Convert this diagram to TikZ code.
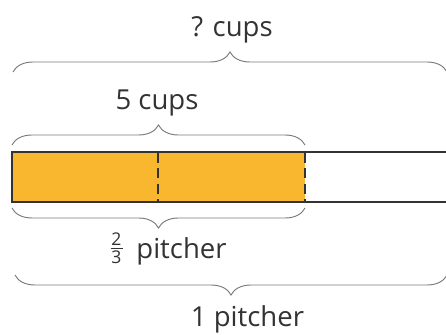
\documentclass[tikz,border=0pt]{standalone}
\usepackage{fontspec}
\setmainfont{Open Sans}
\usetikzlibrary{decorations.pathreplacing}

\definecolor{juice}{HTML}{F9B730}
\definecolor{ink}{HTML}{333333}
\definecolor{bracegray}{HTML}{7A7A7A}

\tikzset{
  curly/.style={draw=bracegray, line width=0.8pt, decorate,
    decoration={brace, amplitude=0.6cm}},
  tag/.style={text=ink, anchor=base, inner sep=0pt,
    font=\fontsize{23.5}{27}\selectfont},
  digit/.style={text=ink, anchor=base, inner sep=0pt,
    font=\fontsize{15}{15}\selectfont},
  divider/.style={ink, line width=1.4pt, dash pattern=on 9pt off 4.5pt}
}

\begin{document}
\begin{tikzpicture}[x=0.03cm, y=-0.03cm]
  \useasboundingbox (0,0) rectangle (446,334);
  \clip (0,0) rectangle (446,334);

  % ---- the pitcher bar ----
  \coordinate (barNW) at (12,152);
  \coordinate (barSE) at (480,202);
  \fill[juice] (barNW) rectangle (305,202);
  \draw[ink, line width=1.5pt] (barNW) rectangle (barSE);
  \draw[divider] (158,152) -- (158,202);
  \draw[divider] (305,152) -- (305,202);

  % ---- braces above the bar ----
  \coordinate (topL) at (13,72);
  \coordinate (topR) at (447,72);
  \draw[curly] (topL) -- (topR);
  \coordinate (partL) at (12,145);
  \coordinate (partR) at (305,145);
  \draw[curly] (partL) -- (partR);

  % ---- braces below the bar ----
  \coordinate (fracR) at (305,208);
  \coordinate (fracL) at (12,208);
  \draw[curly] (fracR) -- (fracL);
  \coordinate (wholeR) at (447,275);
  \coordinate (wholeL) at (15,275);
  \draw[curly] (wholeR) -- (wholeL);

  % ---- labels ----
  \node[tag] (total) at (232,36.5) {? cups};
  \node[tag] (part) at (157,109) {5 cups};
  \node[digit] (numer) at (116.5,245) {2};
  \node[digit] (denom) at (116.5,263.5) {3};
  \draw[ink, line width=0.8pt] (110.5,248) -- (122.5,248);
  \node[tag] (pitcherpart) at (181.5,258.3) {pitcher};
  \node[tag] (whole) at (247.5,326.5) {1 pitcher};

\end{tikzpicture}
\end{document}
